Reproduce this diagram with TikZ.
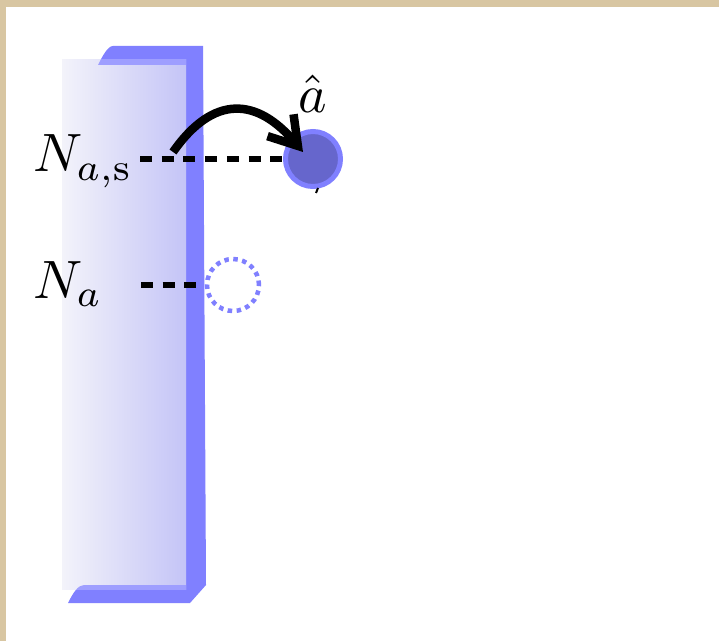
\documentclass[tikz,border=0pt]{standalone}
\usepackage{graphicx}
\usetikzlibrary{arrows.meta}
\definecolor{parch}{RGB}{216,198,162}
\definecolor{slabblue}{RGB}{128,128,255}
\definecolor{overlapblue}{RGB}{158,158,255}
\definecolor{panelL}{RGB}{243,243,250}
\definecolor{panelR}{RGB}{196,196,247}
\definecolor{diskfill}{RGB}{102,102,204}
\newcommand{\hugemath}[1]{\scalebox{5.4}{$#1$}}
\begin{document}
\begin{tikzpicture}[x=1pt,y=1pt,
  lbl/.style={inner sep=0pt, anchor=base west},
  dashline/.style={line width=5.5pt, dash pattern=on 12pt off 9.7pt},
  disk/.style={circle, minimum size=55pt, inner sep=0pt, line width=5pt, draw=slabblue, fill=diskfill},
  ring/.style={circle, minimum size=52pt, inner sep=0pt, line width=4.5pt, draw=slabblue, dash pattern=on 4.5pt off 4.5pt},
  hop/.style={line width=8.5pt, -{Straight Barb[sharp,length=27pt 0,width=34pt 0]}}]
\useasboundingbox (0,0) rectangle (719,641);
\fill[parch] (0,0) rectangle (719,641);
\fill[white] (6,0) rectangle (719,634);
% back face of the slab
\fill[slabblue] (98,576) .. controls (103,586) and (108,595) .. (113,595) -- (203,595) -- (206,56) -- (190,38) -- (68,38) .. controls (73,48) and (78,56) .. (84,56) -- (186,56) -- (186,576) -- cycle;
% front face
\shade[left color=panelL, right color=panelR] (62,52) rectangle (186,581);
\begin{scope}
\clip (62,52) rectangle (186,581);
\fill[overlapblue] (98,576) .. controls (103,586) and (108,595) .. (113,595) -- (203,595) -- (206,56) -- (190,38) -- (68,38) .. controls (73,48) and (78,56) .. (84,56) -- (186,56) -- (186,576) -- cycle;
\end{scope}
% labels
\node[lbl] (nas) at (33,469) {\hugemath{N_{a,\mathrm{s}}}};
\node[lbl] (na) at (33,343) {\hugemath{N_a}};
\node[lbl, anchor=base] (ahat) at (313,528) {\hugemath{\hat a}};
% circles
\node[disk] (c1) at (313,482) {};
\node[ring] (c2) at (233,356) {};
% dashed connectors
\coordinate (d1) at (140,482);
\coordinate (d2) at (141,356);
\draw[dashline] (d1) -- (c1);
\draw[dashline] (d2) -- (c2);
% hop arrow
\coordinate (a0) at (173,489);
\coordinate (atip) at (303,489);
\draw[hop] (a0) to[out=55,in=130,looseness=1.4] (atip);
% small mark below disk
\draw[line width=2pt] (316,448) -- (318,453);
\end{tikzpicture}
\end{document}
